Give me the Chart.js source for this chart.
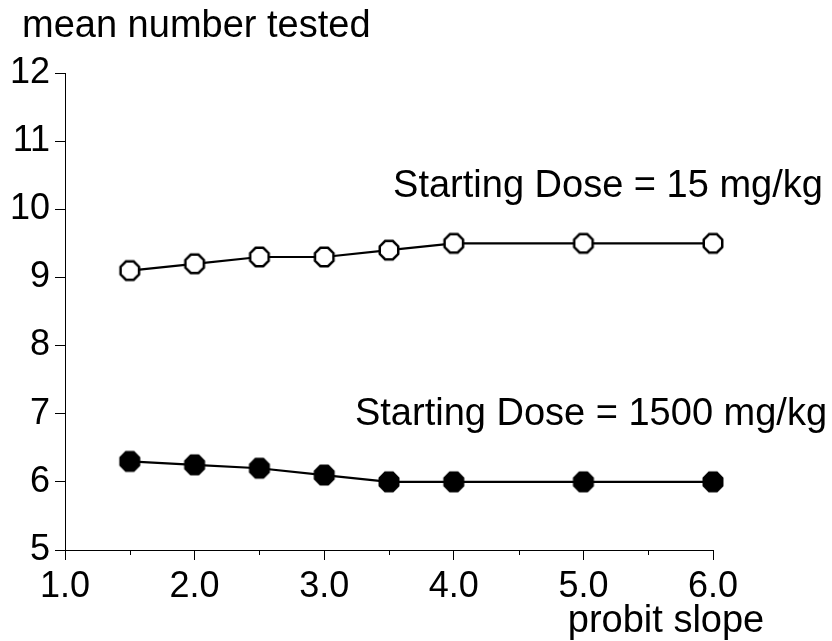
<!DOCTYPE html>
<html>
<head>
<meta charset="utf-8">
<script src="https://cdn.jsdelivr.net/npm/chart.js@4.4.1/dist/chart.umd.min.js"></script>
<style>
  html, body { margin: 0; padding: 0; background: #fff; }
  #wrap { width: 832px; height: 641px; }
</style>
</head>
<body>
<div id="wrap"><canvas id="chart" width="832" height="641"></canvas></div>
<script>
// data
const slopes = [1.5, 2.0, 2.5, 3.0, 3.5, 4.0, 5.0, 6.0];
const dose15 = [9.1, 9.2, 9.3, 9.3, 9.4, 9.5, 9.5, 9.5];
const dose1500 = [6.3, 6.25, 6.2, 6.1, 6.0, 6.0, 6.0, 6.0];
const seriesLabels = ['Starting Dose = 15 mg/kg', 'Starting Dose = 1500 mg/kg'];
const yTitle = 'mean number tested';
const xTitle = 'probit slope';

const FONT = '"Liberation Sans", Arial, sans-serif';

// octagon marker, open or filled
function octagon(filled) {
  const size = 24;
  const c = document.createElement('canvas');
  c.width = size;
  c.height = size;
  const g = c.getContext('2d');
  const r = 10, cx = size / 2, cy = size / 2;
  g.beginPath();
  for (let i = 0; i < 8; i++) {
    const a = Math.PI / 8 + i * Math.PI / 4;
    const px = cx + r * Math.cos(a), py = cy + r * Math.sin(a);
    if (i) g.lineTo(px, py); else g.moveTo(px, py);
  }
  g.closePath();
  g.fillStyle = filled ? '#000' : '#fff';
  g.fill();
  g.lineWidth = 2.5;
  g.strokeStyle = '#000';
  g.stroke();
  return c;
}

// minor ticks on x and the free text labels
const extras = {
  id: 'extras',
  afterDraw(chart) {
    const ctx = chart.ctx;
    const xs = chart.scales.x;
    ctx.save();
    ctx.strokeStyle = '#000';
    ctx.lineWidth = 1;
    xs.ticks.forEach(t => {
      if (Number.isInteger(t.value)) return;
      const px = Math.round(xs.getPixelForValue(t.value)) + 0.5;
      ctx.beginPath();
      ctx.moveTo(px, xs.top);
      ctx.lineTo(px, xs.top + 5);
      ctx.stroke();
    });

    ctx.fillStyle = '#000';
    ctx.font = '38px ' + FONT;
    ctx.textBaseline = 'alphabetic';
    ctx.textAlign = 'left';
    ctx.fillText(yTitle, 22, 37);
    ctx.textAlign = 'center';
    ctx.fillText(xTitle, 666, 632);
    ctx.fillText(seriesLabels[0], 608, 197);
    ctx.fillText(seriesLabels[1], 591, 425);
    ctx.restore();
  }
};

const ctx = document.getElementById('chart').getContext('2d');

new Chart(ctx, {
  type: 'line',
  data: {
    datasets: [
      {
        label: seriesLabels[0],
        data: slopes.map((s, i) => ({ x: s, y: dose15[i] })),
        borderColor: '#000',
        borderWidth: 2.2,
        pointStyle: octagon(false),
        clip: false
      },
      {
        label: seriesLabels[1],
        data: slopes.map((s, i) => ({ x: s, y: dose1500[i] })),
        borderColor: '#000',
        borderWidth: 2.2,
        pointStyle: octagon(true),
        clip: false
      }
    ]
  },
  options: {
    responsive: false,
    animation: false,
    layout: { padding: { top: 73, right: 119, left: 0, bottom: 0 } },
    plugins: {
      legend: { display: false },
      tooltip: { enabled: false }
    },
    scales: {
      x: {
        type: 'linear',
        min: 1,
        max: 6,
        afterFit: s => { s.height = 91; },
        border: { display: true, color: '#000', width: 1 },
        grid: {
          drawOnChartArea: false,
          drawTicks: true,
          tickLength: 10,
          tickColor: c => Number.isInteger(c.tick.value) ? '#000' : 'rgba(0,0,0,0)'
        },
        ticks: {
          stepSize: 0.5,
          autoSkip: false,
          maxRotation: 0,
          padding: 5,
          color: '#000',
          font: { family: FONT, size: 36 },
          callback: v => Number.isInteger(v) ? v.toFixed(1) : ''
        }
      },
      y: {
        min: 5,
        max: 12,
        afterFit: s => { s.width = 65; },
        border: { display: true, color: '#000', width: 1 },
        grid: {
          drawOnChartArea: false,
          drawTicks: true,
          tickLength: 10,
          tickColor: '#000'
        },
        ticks: {
          stepSize: 1,
          padding: 5,
          color: '#000',
          font: { family: FONT, size: 36 }
        }
      }
    }
  },
  plugins: [extras]
});
</script>
</body>
</html>
